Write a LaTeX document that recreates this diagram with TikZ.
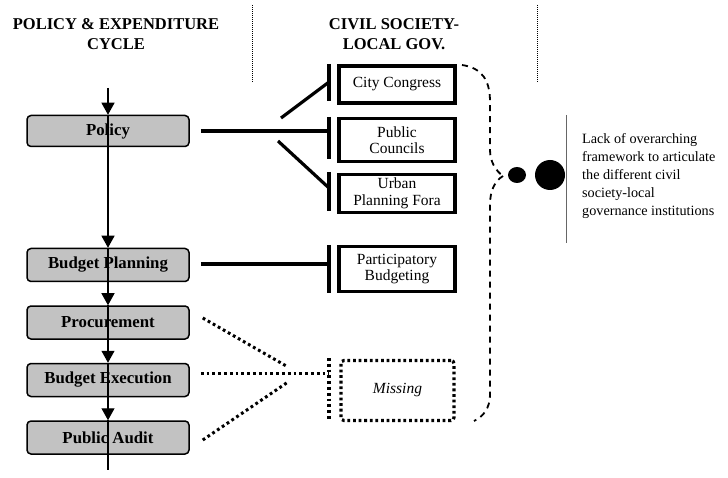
\documentclass[tikz,border=0pt]{standalone}
\usepackage{fontspec}
\setmainfont{Liberation Serif}
\usetikzlibrary{arrows.meta,shapes.geometric}
\begin{document}
\begin{tikzpicture}[x=1pt,y=-1pt,
  cyclebox/.style={draw, line width=1.5pt, rounded corners=4pt, fill=black!24,
    minimum width=162pt, minimum height=33pt, inner sep=0pt,
    font=\fontsize{16.8}{18}\selectfont\bfseries},
  instbox/.style={draw, line width=3.2pt, minimum width=116pt, align=center,
    inner sep=0pt, font=\fontsize{15.5}{16.5}\selectfont},
  missbox/.style={draw, line width=3.2pt, dash pattern=on 2.8pt off 2.8pt,
    rounded corners=3pt, minimum width=113pt, minimum height=60pt, inner sep=0pt,
    font=\fontsize{15.5}{16}\selectfont\itshape},
  tbar/.style={line width=3.6pt},
  link/.style={line width=3.2pt},
  dotlink/.style={line width=3pt, dash pattern=on 2.8pt off 3pt},
  brace/.style={line width=1.8pt, dash pattern=on 6pt off 5pt},
  flow/.style={line width=1.1pt, -{Triangle[width=13pt,length=12pt]}},
  plainflow/.style={line width=1.1pt},
  sep/.style={line width=1pt, dash pattern=on 1pt off 1pt},
  head/.style={font=\fontsize{16.5}{19.5}\selectfont\bfseries, align=center},
  dot/.style={fill=black, draw=none, inner sep=0pt}
]
\useasboundingbox (0,0) rectangle (728,478);

% headers and separators
\node[head] (h1) at (116,34) {POLICY \& EXPENDITURE\\CYCLE};
\node[head] (h2) at (394,34) {CIVIL SOCIETY-\\LOCAL GOV.};
\coordinate (s1a) at (252,5); \coordinate (s1b) at (252,82);
\coordinate (s2a) at (537,5); \coordinate (s2b) at (537,82);
\draw[sep] (s1a) -- (s1b);
\draw[sep] (s2a) -- (s2b);

% cycle boxes
\node[cyclebox, minimum height=31pt] (pol) at (108,131) {Policy};
\node[cyclebox] (bp) at (108,265) {Budget Planning};
\node[cyclebox] (pro) at (108,322.5) {Procurement};
\node[cyclebox] (be) at (108,380) {Budget Execution};
\node[cyclebox] (pa) at (108,437.5) {Public Audit};

% vertical flow
\coordinate (top) at (108,88);
\coordinate (bot) at (108,470);
\draw[flow] (top) -- (pol.north);
\draw[flow] (pol.north) -- (bp.north);
\draw[flow] (bp.north) -- (pro.north);
\draw[flow] (pro.north) -- (be.north);
\draw[flow] (be.north) -- (pa.north);
\draw[plainflow] (pa.north) -- (bot);

% institution boxes
\node[instbox, minimum height=37pt] (cc) at (397,84.5) {City Congress};
\node[instbox, minimum height=42.5pt] (pc) at (397,140) {Public\\Councils};
\node[instbox, minimum height=38pt] (up) at (397,193.5) {Urban\\Planning Fora};
\node[instbox, minimum height=44.5pt] (pb) at (397,269) {Participatory\\Budgeting};
\node[missbox] (mi) at (397.5,390.5) {Missing};

% T-bars
\coordinate (cct) at (329,64); \coordinate (ccb) at (329,101);
\coordinate (pct) at (329,117); \coordinate (pcb) at (329,159);
\coordinate (upt) at (329,172); \coordinate (upb) at (329,211);
\coordinate (pbt) at (329,245); \coordinate (pbb) at (329,293);
\coordinate (mit) at (329,358); \coordinate (mib) at (329,421);
\draw[tbar] (cct) -- (ccb);
\draw[tbar] (pct) -- (pcb);
\draw[tbar] (upt) -- (upb);
\draw[tbar] (pbt) -- (pbb);
\draw[dotlink, line width=3.2pt] (mit) -- (mib);

% solid links
\coordinate (ccin) at (329,82);
\coordinate (pcin) at (329,131);
\coordinate (upin) at (329,188);
\coordinate (pbin) at (329,264);
\coordinate (d1) at (281,118);
\coordinate (d2) at (278,141);
\draw[link] ([xshift=11pt]pol.east) -- (pcin);
\draw[link] (d1) -- (ccin);
\draw[link] (d2) -- (upin);
\draw[link] ([xshift=11pt]bp.east |- pbin) -- (pbin);

% dotted links
\coordinate (mj1) at (288,367);
\coordinate (mj2) at (288,382);
\coordinate (miin) at (329,373);
\draw[dotlink] ([xshift=13pt]pro.east |- 0,318) -- (mj1);
\draw[dotlink] ([xshift=11pt]be.east |- miin) -- (miin);
\draw[dotlink] ([xshift=13pt]pa.east |- 0,440) -- (mj2);

% dashed brace
\coordinate (brtop) at (462,65);
\coordinate (brtip) at (503,176);
\coordinate (brbot) at (474,421);
\draw[brace] (brtop) .. controls (482,68) and (490,80) .. (490,102) -- (490,150)
  .. controls (490,162) and (496,171) .. (brtip);
\draw[brace] (brtip) .. controls (495,181) and (490,190) .. (490,205) -- (490,395)
  .. controls (490,408) and (483,417) .. (brbot);

% dots
\node[dot, ellipse, minimum width=18pt, minimum height=16pt] (sd) at (517,175) {};
\node[dot, circle, minimum size=30pt] (bd) at (550,175) {};

% gray rule and note
\coordinate (gra) at (566,115); \coordinate (grb) at (566,243);
\draw[black!60, line width=1pt] (gra) -- (grb);
\node[anchor=north west, align=left, inner sep=0pt,
  font=\fontsize{14.2}{18}\selectfont] (note) at (582,133)
  {Lack of overarching\\framework to articulate\\the different civil\\society-local\\governance institutions};
\end{tikzpicture}
\end{document}
